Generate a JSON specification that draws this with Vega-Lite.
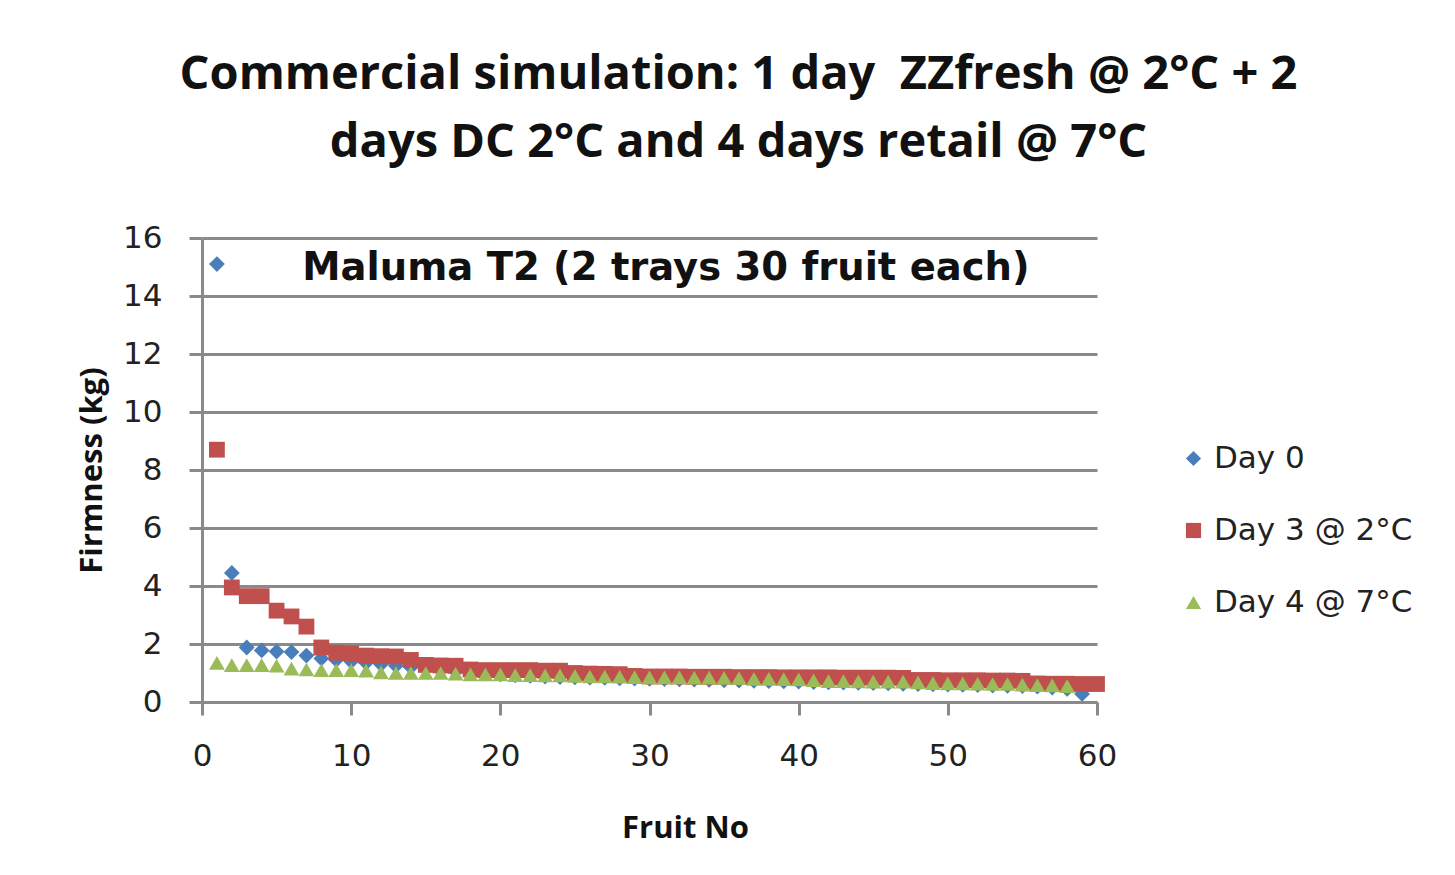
{
  "$schema": "https://vega.github.io/schema/vega-lite/v6.json",
  "width": 895,
  "height": 464,
  "autosize": {"type": "none"},
  "padding": {"left": 202, "top": 238, "right": 358, "bottom": 173},
  "background": "white",
  "title": {
    "text": ["Commercial simulation: 1 day \u00a0ZZfresh @ 2°C + 2", "days DC 2°C and 4 days retail @ 7°C"],
    "font": "Open Sans",
    "fontSize": 47,
    "fontWeight": "bold",
    "color": "#111111",
    "lineHeight": 68,
    "anchor": "middle",
    "frame": "group",
    "dx": 89,
    "offset": 55
  },
  "config": {
    "view": {"stroke": null},
    "axis": {
      "gridColor": "#8a8a8a",
      "gridWidth": 3,
      "gridOpacity": 1,
      "domainColor": "#8a8a8a",
      "domainWidth": 3,
      "tickColor": "#8a8a8a",
      "tickWidth": 3,
      "tickSize": 13,
      "labelFont": "DejaVu Sans",
      "labelFontSize": 31,
      "labelColor": "#222222",
      "labelFlush": false,
      "titleFont": "Open Sans",
      "titleFontSize": 31,
      "titleFontWeight": "bold",
      "titleColor": "#111111"
    }
  },
  "layer": [
    {
      "data": {
        "values": [
          {"fruit": 1, "series": "Day 0", "firmness": 15.1},
          {"fruit": 2, "series": "Day 0", "firmness": 4.45},
          {"fruit": 3, "series": "Day 0", "firmness": 1.88},
          {"fruit": 4, "series": "Day 0", "firmness": 1.78},
          {"fruit": 5, "series": "Day 0", "firmness": 1.74},
          {"fruit": 6, "series": "Day 0", "firmness": 1.72},
          {"fruit": 7, "series": "Day 0", "firmness": 1.6},
          {"fruit": 8, "series": "Day 0", "firmness": 1.5},
          {"fruit": 9, "series": "Day 0", "firmness": 1.45},
          {"fruit": 10, "series": "Day 0", "firmness": 1.4},
          {"fruit": 11, "series": "Day 0", "firmness": 1.35},
          {"fruit": 12, "series": "Day 0", "firmness": 1.3},
          {"fruit": 13, "series": "Day 0", "firmness": 1.25},
          {"fruit": 14, "series": "Day 0", "firmness": 1.2},
          {"fruit": 15, "series": "Day 0", "firmness": 1.15},
          {"fruit": 16, "series": "Day 0", "firmness": 1.1},
          {"fruit": 17, "series": "Day 0", "firmness": 1.05},
          {"fruit": 18, "series": "Day 0", "firmness": 1.0},
          {"fruit": 19, "series": "Day 0", "firmness": 0.98},
          {"fruit": 20, "series": "Day 0", "firmness": 0.95},
          {"fruit": 21, "series": "Day 0", "firmness": 0.92},
          {"fruit": 22, "series": "Day 0", "firmness": 0.9},
          {"fruit": 23, "series": "Day 0", "firmness": 0.88},
          {"fruit": 24, "series": "Day 0", "firmness": 0.86},
          {"fruit": 25, "series": "Day 0", "firmness": 0.85},
          {"fruit": 26, "series": "Day 0", "firmness": 0.84},
          {"fruit": 27, "series": "Day 0", "firmness": 0.83},
          {"fruit": 28, "series": "Day 0", "firmness": 0.82},
          {"fruit": 29, "series": "Day 0", "firmness": 0.81},
          {"fruit": 30, "series": "Day 0", "firmness": 0.8},
          {"fruit": 31, "series": "Day 0", "firmness": 0.79},
          {"fruit": 32, "series": "Day 0", "firmness": 0.78},
          {"fruit": 33, "series": "Day 0", "firmness": 0.77},
          {"fruit": 34, "series": "Day 0", "firmness": 0.76},
          {"fruit": 35, "series": "Day 0", "firmness": 0.75},
          {"fruit": 36, "series": "Day 0", "firmness": 0.74},
          {"fruit": 37, "series": "Day 0", "firmness": 0.73},
          {"fruit": 38, "series": "Day 0", "firmness": 0.72},
          {"fruit": 39, "series": "Day 0", "firmness": 0.71},
          {"fruit": 40, "series": "Day 0", "firmness": 0.7},
          {"fruit": 41, "series": "Day 0", "firmness": 0.69},
          {"fruit": 42, "series": "Day 0", "firmness": 0.68},
          {"fruit": 43, "series": "Day 0", "firmness": 0.67},
          {"fruit": 44, "series": "Day 0", "firmness": 0.66},
          {"fruit": 45, "series": "Day 0", "firmness": 0.65},
          {"fruit": 46, "series": "Day 0", "firmness": 0.64},
          {"fruit": 47, "series": "Day 0", "firmness": 0.63},
          {"fruit": 48, "series": "Day 0", "firmness": 0.62},
          {"fruit": 49, "series": "Day 0", "firmness": 0.61},
          {"fruit": 50, "series": "Day 0", "firmness": 0.6},
          {"fruit": 51, "series": "Day 0", "firmness": 0.59},
          {"fruit": 52, "series": "Day 0", "firmness": 0.58},
          {"fruit": 53, "series": "Day 0", "firmness": 0.57},
          {"fruit": 54, "series": "Day 0", "firmness": 0.56},
          {"fruit": 55, "series": "Day 0", "firmness": 0.55},
          {"fruit": 56, "series": "Day 0", "firmness": 0.53},
          {"fruit": 57, "series": "Day 0", "firmness": 0.5},
          {"fruit": 58, "series": "Day 0", "firmness": 0.45},
          {"fruit": 59, "series": "Day 0", "firmness": 0.28},
          {"fruit": 1, "series": "Day 3 @ 2°C", "firmness": 8.7},
          {"fruit": 2, "series": "Day 3 @ 2°C", "firmness": 3.95},
          {"fruit": 3, "series": "Day 3 @ 2°C", "firmness": 3.65},
          {"fruit": 4, "series": "Day 3 @ 2°C", "firmness": 3.65},
          {"fruit": 5, "series": "Day 3 @ 2°C", "firmness": 3.15},
          {"fruit": 6, "series": "Day 3 @ 2°C", "firmness": 2.95},
          {"fruit": 7, "series": "Day 3 @ 2°C", "firmness": 2.6},
          {"fruit": 8, "series": "Day 3 @ 2°C", "firmness": 1.88},
          {"fruit": 9, "series": "Day 3 @ 2°C", "firmness": 1.7},
          {"fruit": 10, "series": "Day 3 @ 2°C", "firmness": 1.68},
          {"fruit": 11, "series": "Day 3 @ 2°C", "firmness": 1.6},
          {"fruit": 12, "series": "Day 3 @ 2°C", "firmness": 1.58},
          {"fruit": 13, "series": "Day 3 @ 2°C", "firmness": 1.57},
          {"fruit": 14, "series": "Day 3 @ 2°C", "firmness": 1.45},
          {"fruit": 15, "series": "Day 3 @ 2°C", "firmness": 1.28},
          {"fruit": 16, "series": "Day 3 @ 2°C", "firmness": 1.26},
          {"fruit": 17, "series": "Day 3 @ 2°C", "firmness": 1.25},
          {"fruit": 18, "series": "Day 3 @ 2°C", "firmness": 1.12},
          {"fruit": 19, "series": "Day 3 @ 2°C", "firmness": 1.1},
          {"fruit": 20, "series": "Day 3 @ 2°C", "firmness": 1.1},
          {"fruit": 21, "series": "Day 3 @ 2°C", "firmness": 1.1},
          {"fruit": 22, "series": "Day 3 @ 2°C", "firmness": 1.1},
          {"fruit": 23, "series": "Day 3 @ 2°C", "firmness": 1.08},
          {"fruit": 24, "series": "Day 3 @ 2°C", "firmness": 1.08},
          {"fruit": 25, "series": "Day 3 @ 2°C", "firmness": 1.0},
          {"fruit": 26, "series": "Day 3 @ 2°C", "firmness": 0.98},
          {"fruit": 27, "series": "Day 3 @ 2°C", "firmness": 0.97},
          {"fruit": 28, "series": "Day 3 @ 2°C", "firmness": 0.96},
          {"fruit": 29, "series": "Day 3 @ 2°C", "firmness": 0.9},
          {"fruit": 30, "series": "Day 3 @ 2°C", "firmness": 0.88},
          {"fruit": 31, "series": "Day 3 @ 2°C", "firmness": 0.88},
          {"fruit": 32, "series": "Day 3 @ 2°C", "firmness": 0.88},
          {"fruit": 33, "series": "Day 3 @ 2°C", "firmness": 0.87},
          {"fruit": 34, "series": "Day 3 @ 2°C", "firmness": 0.87},
          {"fruit": 35, "series": "Day 3 @ 2°C", "firmness": 0.87},
          {"fruit": 36, "series": "Day 3 @ 2°C", "firmness": 0.86},
          {"fruit": 37, "series": "Day 3 @ 2°C", "firmness": 0.86},
          {"fruit": 38, "series": "Day 3 @ 2°C", "firmness": 0.86},
          {"fruit": 39, "series": "Day 3 @ 2°C", "firmness": 0.85},
          {"fruit": 40, "series": "Day 3 @ 2°C", "firmness": 0.85},
          {"fruit": 41, "series": "Day 3 @ 2°C", "firmness": 0.85},
          {"fruit": 42, "series": "Day 3 @ 2°C", "firmness": 0.85},
          {"fruit": 43, "series": "Day 3 @ 2°C", "firmness": 0.84},
          {"fruit": 44, "series": "Day 3 @ 2°C", "firmness": 0.84},
          {"fruit": 45, "series": "Day 3 @ 2°C", "firmness": 0.84},
          {"fruit": 46, "series": "Day 3 @ 2°C", "firmness": 0.84},
          {"fruit": 47, "series": "Day 3 @ 2°C", "firmness": 0.83},
          {"fruit": 48, "series": "Day 3 @ 2°C", "firmness": 0.76},
          {"fruit": 49, "series": "Day 3 @ 2°C", "firmness": 0.76},
          {"fruit": 50, "series": "Day 3 @ 2°C", "firmness": 0.75},
          {"fruit": 51, "series": "Day 3 @ 2°C", "firmness": 0.75},
          {"fruit": 52, "series": "Day 3 @ 2°C", "firmness": 0.75},
          {"fruit": 53, "series": "Day 3 @ 2°C", "firmness": 0.74},
          {"fruit": 54, "series": "Day 3 @ 2°C", "firmness": 0.74},
          {"fruit": 55, "series": "Day 3 @ 2°C", "firmness": 0.73},
          {"fruit": 56, "series": "Day 3 @ 2°C", "firmness": 0.64},
          {"fruit": 57, "series": "Day 3 @ 2°C", "firmness": 0.63},
          {"fruit": 58, "series": "Day 3 @ 2°C", "firmness": 0.63},
          {"fruit": 59, "series": "Day 3 @ 2°C", "firmness": 0.62},
          {"fruit": 60, "series": "Day 3 @ 2°C", "firmness": 0.62},
          {"fruit": 1, "series": "Day 4 @ 7°C", "firmness": 1.35},
          {"fruit": 2, "series": "Day 4 @ 7°C", "firmness": 1.27},
          {"fruit": 3, "series": "Day 4 @ 7°C", "firmness": 1.27},
          {"fruit": 4, "series": "Day 4 @ 7°C", "firmness": 1.27},
          {"fruit": 5, "series": "Day 4 @ 7°C", "firmness": 1.25},
          {"fruit": 6, "series": "Day 4 @ 7°C", "firmness": 1.15},
          {"fruit": 7, "series": "Day 4 @ 7°C", "firmness": 1.12},
          {"fruit": 8, "series": "Day 4 @ 7°C", "firmness": 1.1},
          {"fruit": 9, "series": "Day 4 @ 7°C", "firmness": 1.1},
          {"fruit": 10, "series": "Day 4 @ 7°C", "firmness": 1.1},
          {"fruit": 11, "series": "Day 4 @ 7°C", "firmness": 1.08},
          {"fruit": 12, "series": "Day 4 @ 7°C", "firmness": 1.02},
          {"fruit": 13, "series": "Day 4 @ 7°C", "firmness": 1.0},
          {"fruit": 14, "series": "Day 4 @ 7°C", "firmness": 1.0},
          {"fruit": 15, "series": "Day 4 @ 7°C", "firmness": 1.0},
          {"fruit": 16, "series": "Day 4 @ 7°C", "firmness": 1.0},
          {"fruit": 17, "series": "Day 4 @ 7°C", "firmness": 0.98},
          {"fruit": 18, "series": "Day 4 @ 7°C", "firmness": 0.95},
          {"fruit": 19, "series": "Day 4 @ 7°C", "firmness": 0.95},
          {"fruit": 20, "series": "Day 4 @ 7°C", "firmness": 0.95},
          {"fruit": 21, "series": "Day 4 @ 7°C", "firmness": 0.93},
          {"fruit": 22, "series": "Day 4 @ 7°C", "firmness": 0.93},
          {"fruit": 23, "series": "Day 4 @ 7°C", "firmness": 0.92},
          {"fruit": 24, "series": "Day 4 @ 7°C", "firmness": 0.92},
          {"fruit": 25, "series": "Day 4 @ 7°C", "firmness": 0.9},
          {"fruit": 26, "series": "Day 4 @ 7°C", "firmness": 0.88},
          {"fruit": 27, "series": "Day 4 @ 7°C", "firmness": 0.88},
          {"fruit": 28, "series": "Day 4 @ 7°C", "firmness": 0.87},
          {"fruit": 29, "series": "Day 4 @ 7°C", "firmness": 0.86},
          {"fruit": 30, "series": "Day 4 @ 7°C", "firmness": 0.85},
          {"fruit": 31, "series": "Day 4 @ 7°C", "firmness": 0.85},
          {"fruit": 32, "series": "Day 4 @ 7°C", "firmness": 0.85},
          {"fruit": 33, "series": "Day 4 @ 7°C", "firmness": 0.84},
          {"fruit": 34, "series": "Day 4 @ 7°C", "firmness": 0.84},
          {"fruit": 35, "series": "Day 4 @ 7°C", "firmness": 0.83},
          {"fruit": 36, "series": "Day 4 @ 7°C", "firmness": 0.82},
          {"fruit": 37, "series": "Day 4 @ 7°C", "firmness": 0.8},
          {"fruit": 38, "series": "Day 4 @ 7°C", "firmness": 0.8},
          {"fruit": 39, "series": "Day 4 @ 7°C", "firmness": 0.79},
          {"fruit": 40, "series": "Day 4 @ 7°C", "firmness": 0.78},
          {"fruit": 41, "series": "Day 4 @ 7°C", "firmness": 0.75},
          {"fruit": 42, "series": "Day 4 @ 7°C", "firmness": 0.72},
          {"fruit": 43, "series": "Day 4 @ 7°C", "firmness": 0.72},
          {"fruit": 44, "series": "Day 4 @ 7°C", "firmness": 0.71},
          {"fruit": 45, "series": "Day 4 @ 7°C", "firmness": 0.7},
          {"fruit": 46, "series": "Day 4 @ 7°C", "firmness": 0.7},
          {"fruit": 47, "series": "Day 4 @ 7°C", "firmness": 0.7},
          {"fruit": 48, "series": "Day 4 @ 7°C", "firmness": 0.68},
          {"fruit": 49, "series": "Day 4 @ 7°C", "firmness": 0.65},
          {"fruit": 50, "series": "Day 4 @ 7°C", "firmness": 0.64},
          {"fruit": 51, "series": "Day 4 @ 7°C", "firmness": 0.64},
          {"fruit": 52, "series": "Day 4 @ 7°C", "firmness": 0.63},
          {"fruit": 53, "series": "Day 4 @ 7°C", "firmness": 0.62},
          {"fruit": 54, "series": "Day 4 @ 7°C", "firmness": 0.62},
          {"fruit": 55, "series": "Day 4 @ 7°C", "firmness": 0.6},
          {"fruit": 56, "series": "Day 4 @ 7°C", "firmness": 0.58},
          {"fruit": 57, "series": "Day 4 @ 7°C", "firmness": 0.57},
          {"fruit": 58, "series": "Day 4 @ 7°C", "firmness": 0.55}
        ]
      },
      "mark": {"type": "point", "filled": true, "size": 250, "opacity": 1},
      "encoding": {
        "x": {
          "field": "fruit",
          "type": "quantitative",
          "title": "Fruit No",
          "scale": {"domain": [0, 60], "nice": false, "zero": true},
          "axis": {"values": [0, 10, 20, 30, 40, 50, 60], "grid": false, "labelPadding": 26, "titlePadding": 42, "titleX": 483}
        },
        "y": {
          "field": "firmness",
          "type": "quantitative",
          "title": "Firmness (kg)",
          "scale": {"domain": [0, 16], "nice": false},
          "axis": {"values": [0, 2, 4, 6, 8, 10, 12, 14, 16], "grid": true, "labelPadding": 27, "titlePadding": 14}
        },
        "color": {
          "field": "series",
          "type": "nominal",
          "title": null,
          "scale": {
            "domain": ["Day 0", "Day 3 @ 2°C", "Day 4 @ 7°C"],
            "range": ["#4a7ebb", "#c0504d", "#9bbb59"]
          },
          "legend": {
            "orient": "none",
            "legendX": 976,
            "legendY": 205,
            "labelFont": "DejaVu Sans",
            "labelFontSize": 31,
            "labelColor": "#222222",
            "symbolSize": 230,
            "rowPadding": 40,
            "labelOffset": 5,
            "labelLimit": 400
          }
        },
        "shape": {
          "field": "series",
          "type": "nominal",
          "title": null,
          "scale": {
            "domain": ["Day 0", "Day 3 @ 2°C", "Day 4 @ 7°C"],
            "range": ["diamond", "square", "triangle-up"]
          }
        }
      }
    },
    {
      "data": {"values": [{"label": "Maluma T2 (2 trays 30 fruit each)", "fruit": 31.1, "firmness": 14.95}]},
      "mark": {"type": "text", "font": "DejaVu Sans", "fontSize": 38.5, "fontWeight": "bold", "color": "#111111", "align": "center", "baseline": "middle"},
      "encoding": {
        "x": {"field": "fruit", "type": "quantitative"},
        "y": {"field": "firmness", "type": "quantitative"},
        "text": {"field": "label"}
      }
    }
  ]
}
